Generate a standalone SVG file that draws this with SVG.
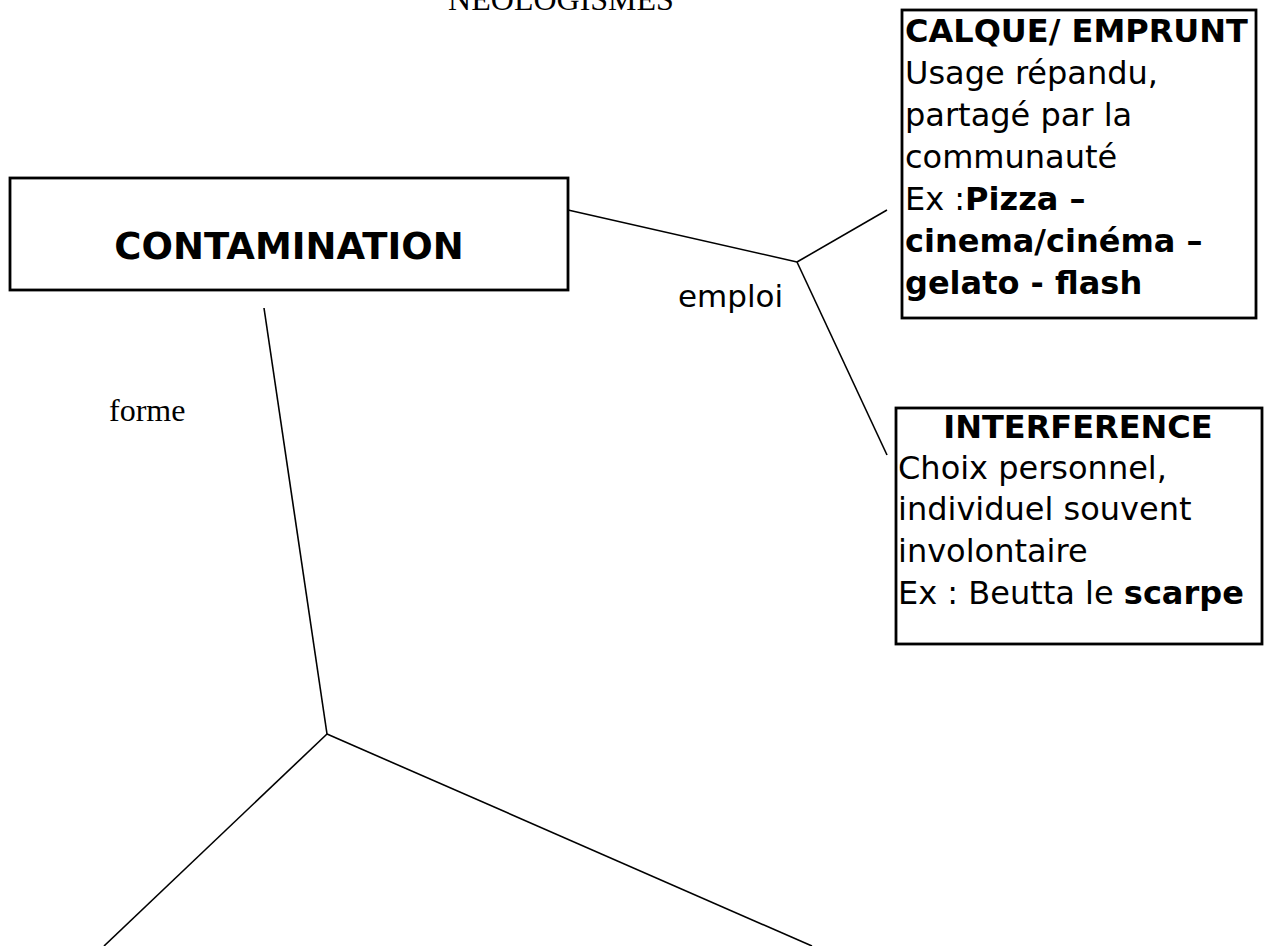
<svg xmlns="http://www.w3.org/2000/svg" width="1275" height="946" viewBox="0 0 1275 946">
<style>
.box{fill:#fff;stroke:#000;stroke-width:2.8}
.ln{stroke:#000;stroke-width:1.6;fill:none}
.s{font-family:"DejaVu Sans",sans-serif;font-size:32px;fill:#000}
.b{font-weight:bold}
.serif{font-family:"Liberation Serif",serif;font-size:32px;fill:#000}
</style>
<rect width="1275" height="946" fill="#fff"/>
<text class="serif" x="561" y="10" text-anchor="middle">NEOLOGISMES</text>
<g id="connectors">
<line class="ln" x1="568" y1="210" x2="797" y2="262"/>
<line class="ln" x1="797" y1="262" x2="887" y2="210"/>
<line class="ln" x1="797" y1="262" x2="887" y2="455"/>
<line class="ln" x1="264" y1="308" x2="327" y2="734"/>
<line class="ln" x1="327" y1="734" x2="104" y2="946"/>
<line class="ln" x1="327" y1="734" x2="812" y2="946"/>
</g>
<g id="label-emploi"><text class="s" style="font-size:31px" x="678" y="307">emploi</text></g>
<g id="label-forme"><text class="serif" x="109" y="421">forme</text></g>
<g id="contamination">
<rect class="box" x="10" y="178" width="558" height="112"/>
<text class="s b" style="font-size:37px" x="289" y="259" text-anchor="middle">CONTAMINATION</text>
</g>
<g id="calque">
<rect class="box" x="902" y="10" width="354" height="308"/>
<text class="s b" x="905" y="42">CALQUE/ EMPRUNT</text>
<text class="s" x="905" y="84">Usage répandu,</text>
<text class="s" x="905" y="126">partagé par la</text>
<text class="s" x="905" y="168">communauté</text>
<text class="s" x="905" y="210">Ex :<tspan class="b">Pizza –</tspan></text>
<text class="s b" x="905" y="252">cinema/cinéma –</text>
<text class="s b" x="905" y="294">gelato - flash</text>
</g>
<g id="interference">
<rect class="box" x="896" y="408" width="366" height="236"/>
<text class="s b" x="1078" y="438" text-anchor="middle">INTERFERENCE</text>
<text class="s" x="898" y="479">Choix personnel,</text>
<text class="s" x="898" y="520">individuel souvent</text>
<text class="s" x="898" y="562">involontaire</text>
<text class="s" x="898" y="604">Ex : Beutta le <tspan class="b">scarpe</tspan></text>
</g>
</svg>
